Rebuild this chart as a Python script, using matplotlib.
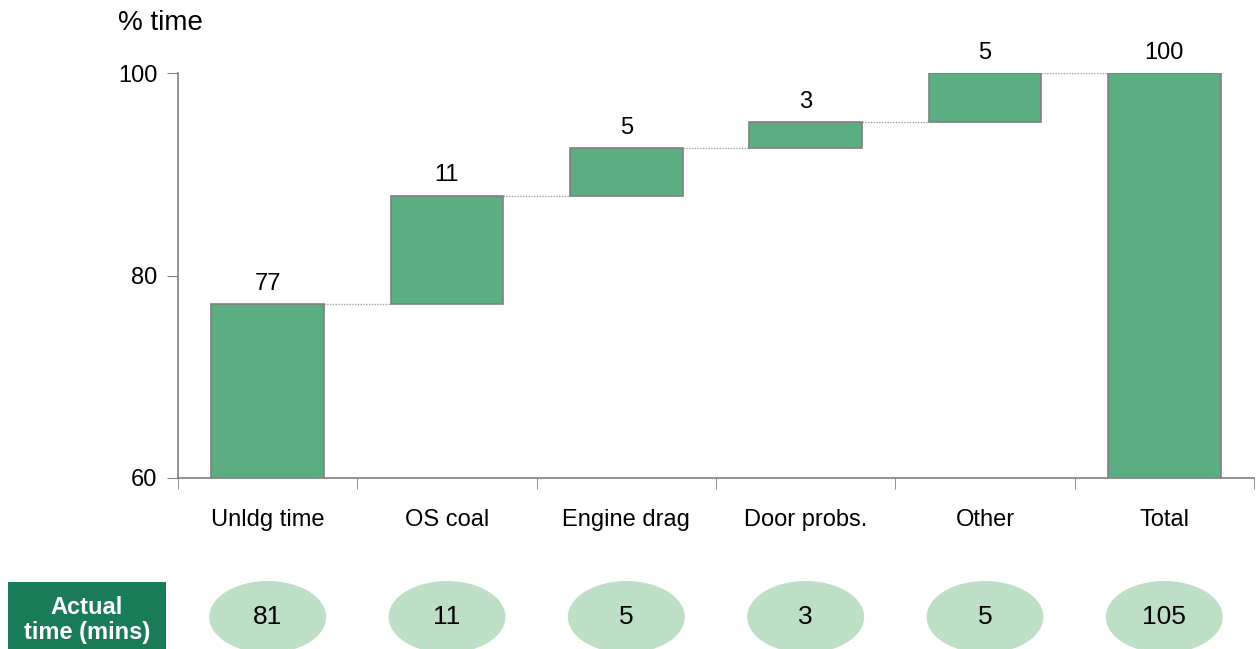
import matplotlib
matplotlib.use('Agg')
import matplotlib.pyplot as plt
from matplotlib.patches import Ellipse, Rectangle
from matplotlib.transforms import blended_transform_factory

plt.rcParams['font.family'] = ['Liberation Sans', 'DejaVu Sans']

# Data
categories = ['Unldg time', 'OS coal', 'Engine drag', 'Door probs.', 'Other', 'Total']
steps = [77.2, 10.7, 4.7, 2.6, 4.8]
bar_labels = ['77', '11', '5', '3', '5', '100']
actual_mins = ['81', '11', '5', '3', '5', '105']

bar_color = '#5BAE82'
edge_color = '#808080'
oval_color = '#BDDFC5'
box_color = '#1A7B58'

W, H = 1258, 649
fig = plt.figure(figsize=(W / 100, H / 100), dpi=100)
ax = fig.add_axes([178 / W, (H - 478) / H, (1254 - 178) / W, (478 - 73) / H])

# Waterfall bottoms and heights
bottoms = []
heights = []
run = 0
for i, s in enumerate(steps):
    bottoms.append(60 if i == 0 else run)
    heights.append(s - (60 - run) if i == 0 else s)
    run += s
bottoms.append(60)
heights.append(run - 60)
tops = [b + h for b, h in zip(bottoms, heights)]

x = list(range(len(categories)))
bw = 0.63
ax.bar(x, heights, bottom=bottoms, width=bw, color=bar_color,
       edgecolor=edge_color, linewidth=1.2, zorder=3)

# Connectors
for i in range(len(categories) - 1):
    ax.plot([i + bw / 2, i + 1 - bw / 2], [tops[i], tops[i]], color='#a0a0a0',
            linestyle=(0, (1, 1)), linewidth=1, zorder=2)

# Value labels
for i, lab in enumerate(bar_labels):
    ax.annotate(lab, (i, tops[i]), xytext=(0, 6.5), textcoords='offset points',
                ha='center', va='bottom', fontsize=17, clip_on=False)

ax.set_xlim(-0.5, len(categories) - 0.5)
ax.set_ylim(60, 100)
ax.set_yticks([60, 80, 100])
ax.set_xticks(x)
ax.set_xticklabels(categories)
ax.set_xticks([i - 0.5 for i in range(len(categories) + 1)], minor=True)
ax.tick_params(axis='x', which='major', length=0, pad=22, labelsize=17)
ax.tick_params(axis='x', which='minor', length=8, color=edge_color, direction='out')
ax.tick_params(axis='y', length=8, color=edge_color, labelsize=17, pad=7)
for side in ['top', 'right']:
    ax.spines[side].set_visible(False)
for side in ['left', 'bottom']:
    ax.spines[side].set_color(edge_color)
    ax.spines[side].set_linewidth(1.2)

fig.text(118 / W, 1 - 23 / H, '% time', ha='left', va='center', fontsize=20)

# Bottom row: actual minutes in ovals
tr = blended_transform_factory(ax.transData, fig.transFigure)
yc = 1 - 617 / H
for i, val in enumerate(actual_mins):
    e = Ellipse((i, yc), width=117 / 179.4, height=72 / H, transform=tr,
                facecolor=oval_color, edgecolor='none', clip_on=False)
    fig.add_artist(e)
    fig.text(i, yc, val, transform=tr, ha='center', va='center', fontsize=19)

box = Rectangle((8 / W, 0), (166 - 8) / W, (H - 582) / H, transform=fig.transFigure,
                facecolor=box_color, edgecolor='none')
fig.add_artist(box)
fig.text(87 / W, 1 - 620 / H, 'Actual\ntime (mins)', ha='center', va='center',
         color='white', fontsize=17, fontweight='bold', linespacing=1.15)

fig.savefig('out.png', dpi=100)
